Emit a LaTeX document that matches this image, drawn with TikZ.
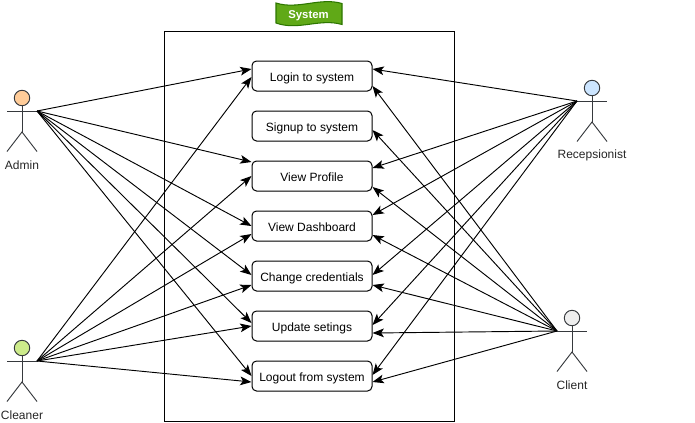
\documentclass[tikz,border=0pt]{standalone}
\usepackage{fontspec}
\setmainfont{Liberation Sans}
\usetikzlibrary{arrows.meta}
\definecolor{stroke}{HTML}{36393D}
\definecolor{adminc}{HTML}{FFCC99}
\definecolor{cleanerc}{HTML}{CDEB8B}
\definecolor{recepc}{HTML}{CCE5FF}
\definecolor{clientc}{HTML}{EEEEEE}
\definecolor{tapefill}{HTML}{60A917}
\definecolor{tapeline}{HTML}{2D7600}
\def\px{0.75pt}
\tikzset{
    usecase/.style={draw, line width=0.75pt, rounded corners=3.4pt, fill=white, minimum width=90pt, minimum height=22.5pt, inner sep=0pt, text height=8.2pt, text depth=0pt, font=\fontsize{9}{11}\selectfont},
    conn/.style={-{Stealth[length=8.5pt, width=6.5pt, inset=2pt]}, line width=0.7pt},
    actorline/.style={draw=stroke, line width=0.7pt},
    actorlabel/.style={font=\fontsize{9}{11}\selectfont, text=black!85, inner sep=0pt},
}
% name, x, y of head, colour, text
\newcommand{\actor}[5]{
    \node[circle, draw=stroke, fill=#4, line width=0.7pt, minimum size=11.6pt, inner sep=0pt] (#1) at (#2,#3) {};
    \coordinate (#1L) at (#2-15,#3+13);
    \coordinate (#1R) at (#2+15,#3+13);
    \draw[actorline] (#1.south) -- (#2,#3+34);
    \draw[actorline] (#1L) -- (#1R);
    \draw[actorline] (#2-15,#3+53.5) -- (#2,#3+34) -- (#2+15,#3+53.5);
    \node[actorlabel] (#1label) at (#2,#3+67) {#5};
}

\begin{document}
\begin{tikzpicture}[x=0.75pt, y=-0.75pt]
    \def\bx{312}
    \useasboundingbox (0,0) rectangle (695,422);

    \node[draw, line width=0.75pt, minimum width=217.5pt, minimum height=292.5pt, inner sep=0pt] (sys) at (309,226) {};

    \fill[tapefill, draw=tapeline, line width=0.8pt] (276,3) .. controls (298,10) and (320,-3) .. (342,3.5) -- (342,24.5) .. controls (320,18) and (298,31) .. (276,23) -- cycle;
    \node[text=white, font=\fontsize{8.5}{11}\selectfont\bfseries, inner sep=0pt] (tape) at (308.5,15.5) {System};

    \node[usecase] (login) at (\bx,76) {Login to system};
    \node[usecase] (signup) at (\bx,126) {Signup to system};
    \node[usecase] (profile) at (\bx,176) {View Profile};
    \node[usecase] (dash) at (\bx,226) {View Dashboard};
    \node[usecase] (cred) at (\bx,276) {Change credentials};
    \node[usecase] (upd) at (\bx,326) {Update setings};
    \node[usecase] (logout) at (\bx,376) {Logout from system};

    \actor{admin}{22}{98}{adminc}{Admin}
    \actor{cleaner}{22}{348}{cleanerc}{Cleaner}
    \actor{recep}{592}{88}{recepc}{Recepsionist}
    \actor{client}{572}{318}{clientc}{Client}

    \draw[conn] (adminR) to ([yshift=7*\px]login.west);
    \draw[conn] (adminR) to ([yshift=14*\px]profile.west);
    \draw[conn] (adminR) to (dash.west);
    \draw[conn] (adminR) to ([yshift=1*\px]cred.west);
    \draw[conn] (adminR) to ([yshift=3*\px]upd.west);
    \draw[conn] (adminR) to (logout.west);

    \draw[conn] (cleanerR) to ([yshift=-1*\px]login.west);
    \draw[conn] (cleanerR) to (profile.west);
    \draw[conn] (cleanerR) to ([yshift=-8*\px]dash.west);
    \draw[conn] (cleanerR) to ([yshift=-9*\px]cred.west);
    \draw[conn] (cleanerR) to (upd.west);
    \draw[conn] (cleanerR) to ([yshift=-6*\px]logout.west);

    \draw[conn] (recepL) to ([yshift=7*\px]login.east);
    \draw[conn] (recepL) to ([yshift=8*\px]profile.east);
    \draw[conn] (recepL) to ([yshift=11*\px]dash.east);
    \draw[conn] (recepL) to ([yshift=1*\px]cred.east);
    \draw[conn] (recepL) to ([yshift=1*\px]upd.east);
    \draw[conn] (recepL) to ([yshift=1*\px]logout.east);

    \draw[conn] (clientL) to ([yshift=-10*\px]login.east);
    \draw[conn] (clientL) to ([yshift=-4*\px]signup.east);
    \draw[conn] (clientL) to ([yshift=-11*\px]profile.east);
    \draw[conn] (clientL) to ([yshift=-9*\px]dash.east);
    \draw[conn] (clientL) to ([yshift=-9*\px]cred.east);
    \draw[conn] (clientL) to ([yshift=-7*\px]upd.east);
    \draw[conn] (clientL) to ([yshift=-6*\px]logout.east);
\end{tikzpicture}
\end{document}
